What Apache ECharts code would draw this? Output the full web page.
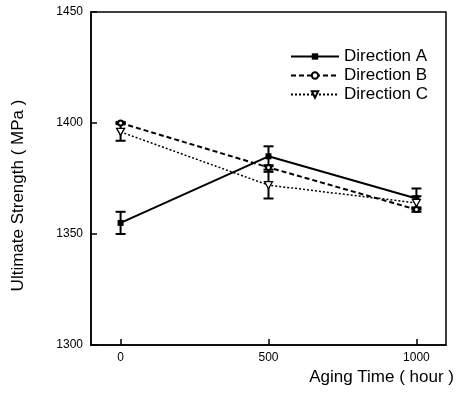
<!DOCTYPE html>
<html>
<head>
<meta charset="utf-8">
<script src="https://cdn.jsdelivr.net/npm/echarts@6/dist/echarts.min.js"></script>
<style>
  html, body { margin: 0; padding: 0; background: #fff; }
  #chart { width: 461px; height: 397px; }
</style>
</head>
<body>
<div id="chart"></div>
<script>
// aging time (hour)
const hours = [0, 500, 1000]
// ultimate strength (MPa) and error half-widths
const dirA = [1355, 1385, 1366]
const errA = [5, 4.5, 4.5]
const dirB = [1400, 1380, 1361]
const errB = [0.5, 1, 1]
const dirC = [1396, 1372, 1364]
const errC = [4, 6, 3]
const xTicks = [0, 500, 1000]

const font = 'Liberation Sans, Arial, sans-serif'

const pairs = (vals) => hours.map((h, i) => [h, vals[i]])
const errData = (vals, errs) => hours.map((h, i) => [h, vals[i] - errs[i], vals[i] + errs[i]])

// vertical error bar with caps
const renderErr = (params, api) => {
  const lo = api.coord([api.value(0), api.value(1)])
  const hi = api.coord([api.value(0), api.value(2)])
  const w = 5
  const style = { stroke: '#000', lineWidth: 2 }
  return {
    type: 'group',
    children: [
      { type: 'line', shape: { x1: lo[0], y1: lo[1], x2: hi[0], y2: hi[1] }, style },
      { type: 'line', shape: { x1: lo[0] - w, y1: lo[1], x2: lo[0] + w, y2: lo[1] }, style },
      { type: 'line', shape: { x1: hi[0] - w, y1: hi[1], x2: hi[0] + w, y2: hi[1] }, style }
    ]
  }
}

const chart = echarts.init(document.getElementById('chart'))

chart.setOption({
  backgroundColor: '#fff',
  animation: false,
  textStyle: { fontFamily: font, color: '#000' },
  grid: {
    left: 91, right: 15, top: 12, bottom: 52,
    show: true, borderColor: '#000', borderWidth: 1.5
  },
  legend: {
    orient: 'vertical',
    left: 290,
    top: 48,
    padding: 0,
    itemWidth: 48,
    itemHeight: 8,
    itemGap: 2,
    data: ['Direction A', 'Direction B', 'Direction C'],
    textStyle: { fontSize: 17, color: '#000', fontFamily: font }
  },
  xAxis: {
    type: 'value',
    min: -100,
    max: 1100,
    splitLine: { show: false },
    axisLine: { onZero: false, lineStyle: { color: '#000', width: 1.5 } },
    axisTick: { inside: true, length: 6, customValues: xTicks, lineStyle: { color: '#000', width: 1.5 } },
    axisLabel: { customValues: xTicks, fontSize: 12, color: '#000', margin: 7, fontFamily: font, formatter: (v) => String(v) },
    name: 'Aging Time ( hour )',
    nameLocation: 'end',
    nameGap: 8,
    nameTextStyle: { fontSize: 17, align: 'right', verticalAlign: 'top', padding: [24, 0, 0, 0], color: '#000', fontFamily: font }
  },
  yAxis: {
    type: 'value',
    min: 1300,
    max: 1450,
    interval: 50,
    splitLine: { show: false },
    axisLine: { onZero: false, lineStyle: { color: '#000', width: 1.5 } },
    axisTick: { inside: true, length: 6, lineStyle: { color: '#000', width: 1.5 } },
    axisLabel: { fontSize: 12, color: '#000', margin: 8, fontFamily: font, formatter: (v) => String(v) },
    name: 'Ultimate Strength ( MPa )',
    nameLocation: 'middle',
    nameGap: 64,
    nameTextStyle: { fontSize: 17, padding: [0, 34, 0, 0], color: '#000', fontFamily: font }
  },
  series: [
    {
      name: 'Direction A',
      type: 'line',
      data: pairs(dirA),
      symbol: 'rect',
      symbolSize: 6,
      itemStyle: { color: '#000' },
      lineStyle: { color: '#000', width: 2, type: 'solid' },
      z: 3
    },
    {
      name: 'Direction B',
      type: 'line',
      data: pairs(dirB),
      symbol: 'emptyCircle',
      symbolSize: 5,
      itemStyle: { color: '#000', borderWidth: 1.2 },
      lineStyle: { color: '#000', width: 2, type: [5, 3] },
      z: 3
    },
    {
      name: 'Direction C',
      type: 'line',
      data: pairs(dirC),
      symbol: 'path://M0,0 L10,0 L5,9 Z',
      symbolSize: [8, 7],
      itemStyle: { color: '#fff', borderColor: '#000', borderWidth: 1.3 },
      lineStyle: { color: '#000', width: 1.5, type: [2, 2] },
      z: 3
    },
    { type: 'custom', renderItem: renderErr, data: errData(dirA, errA), encode: { x: 0, y: [1, 2] }, z: 2 },
    { type: 'custom', renderItem: renderErr, data: errData(dirB, errB), encode: { x: 0, y: [1, 2] }, z: 2 },
    { type: 'custom', renderItem: renderErr, data: errData(dirC, errC), encode: { x: 0, y: [1, 2] }, z: 2 }
  ]
})

window.addEventListener('resize', () => chart.resize())
</script>
</body>
</html>
